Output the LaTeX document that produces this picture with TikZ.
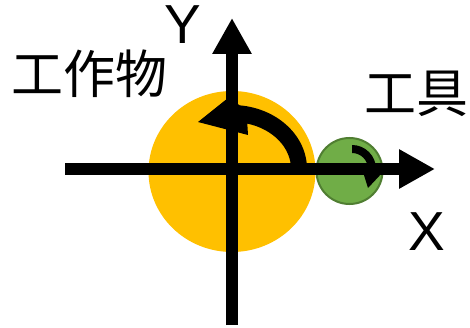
\documentclass[tikz,border=0pt]{standalone}
\usepackage{fontspec}
\setmainfont{Liberation Sans}
\newfontfamily\cjkfont{Noto Sans CJK JP}
\usetikzlibrary{arrows.meta,shapes.geometric}
\definecolor{workorange}{HTML}{FFC000}
\definecolor{toolgreen}{HTML}{70AD47}
\definecolor{toolborder}{HTML}{507E32}
\begin{document}
\begin{tikzpicture}[x=1pt,y=1pt,
  axis/.style={line width=12pt,-{Triangle[length=36pt,width=37pt]}},
  cjklabel/.style={inner sep=0pt,font=\cjkfont\fontsize{52}{60}\selectfont},
  axlabel/.style={inner sep=0pt,font=\fontsize{55}{60}\selectfont},
  rotarrow/.style={fill=black,draw=none}]
\useasboundingbox[fill=white] (0,0) rectangle (470,-328);
% work piece and tool
\node[draw=none,fill=workorange,ellipse,minimum width=167pt,minimum height=161pt,inner sep=0pt] (work) at (232,-171.5) {};
\node[draw=toolborder,line width=2pt,fill=toolgreen,circle,minimum size=66pt,inner sep=0pt] (tool) at (349.5,-171) {};
% rotation arrow of the work piece
\path[rotarrow] (307,-169) arc[start angle=0,end angle=84,x radius=75,y radius=64]
  -- (228,-98) -- (198,-122) -- (248,-135) -- (247.3,-123.6)
  arc[start angle=75,end angle=0,x radius=59,y radius=47] -- cycle;
% rotation arrow of the tool
\path[rotarrow] (352,-145) arc[start angle=90,end angle=0,radius=24]
  -- (383,-172) -- (368,-188) -- (363,-172) -- (368,-169)
  arc[start angle=0,end angle=90,radius=16] -- cycle;
% axes
\coordinate (xs) at (65,-169);
\coordinate (xe) at (435,-169);
\coordinate (ys) at (232,-325);
\coordinate (ye) at (232,-18);
\draw[axis] (xs) -- (xe);
\draw[axis] (ys) -- (ye);
% labels
\node[axlabel] (ylab) at (182.5,-24.5) {Y};
\node[axlabel] (xlab) at (426.5,-232) {X};
\node[cjklabel] (worklab) at (89,-74) {工作物};
\node[cjklabel] (toollab) at (416,-93.5) {工具};
\end{tikzpicture}
\end{document}
